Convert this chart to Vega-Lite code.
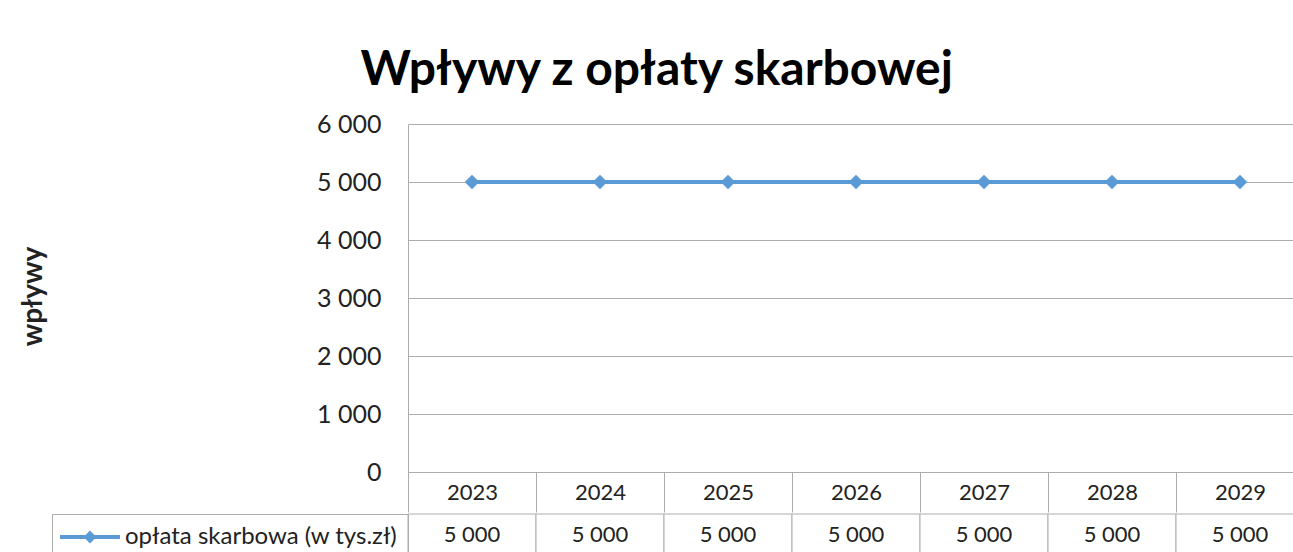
{
  "$schema": "https://vega.github.io/schema/vega-lite/v6.json",
  "background": "white",
  "padding": {"left": 19, "top": 47, "right": 0, "bottom": 0},
  "config": {
    "locale": {"number": {"decimal": ",", "thousands": " ", "grouping": [3], "currency": ["", " zł"]}},
    "font": "Lato",
    "view": {"stroke": null},
    "axis": {"labelFont": "Lato", "titleFont": "Lato", "labelColor": "#222222", "titleColor": "#222222", "gridColor": "#ADADAD", "domainColor": "#ADADAD", "tickColor": "#ADADAD"},
    "concat": {"spacing": 0}
  },
  "title": {"text": "Wpływy z opłaty skarbowej", "fontSize": 48, "font": "Lato", "fontWeight": "bold", "color": "#000000", "anchor": "middle", "offset": 17, "dx": -5},
  "datasets": {
    "wplywy": [
      {"rok": "2023", "wartosc": 5000, "seria": "opłata skarbowa (w tys.zł)"},
      {"rok": "2024", "wartosc": 5000, "seria": "opłata skarbowa (w tys.zł)"},
      {"rok": "2025", "wartosc": 5000, "seria": "opłata skarbowa (w tys.zł)"},
      {"rok": "2026", "wartosc": 5000, "seria": "opłata skarbowa (w tys.zł)"},
      {"rok": "2027", "wartosc": 5000, "seria": "opłata skarbowa (w tys.zł)"},
      {"rok": "2028", "wartosc": 5000, "seria": "opłata skarbowa (w tys.zł)"},
      {"rok": "2029", "wartosc": 5000, "seria": "opłata skarbowa (w tys.zł)"}
    ]
  },
  "vconcat": [
    {
      "width": 896,
      "height": 348,
      "data": {"name": "wplywy"},
      "encoding": {
        "x": {
          "field": "rok", "type": "nominal",
          "scale": {"type": "band", "paddingInner": 0, "paddingOuter": 0},
          "axis": {"title": null, "labelAngle": 0, "labelFontSize": 22, "tickBand": "extent", "tickSize": 40, "labelPadding": -20, "labelBaseline": "middle", "labelAlign": "center", "domain": true, "grid": false}
        },
        "y": {
          "field": "wartosc", "type": "quantitative",
          "scale": {"domain": [0, 6000], "nice": false},
          "axis": {"values": [0, 1000, 2000, 3000, 4000, 5000, 6000], "format": ",.0f", "title": "wpływy", "titleFontSize": 28, "titleFontWeight": "bold", "titleX": -375, "titleY": 172, "titleBaseline": "middle", "labelFontSize": 25, "labelPadding": 27, "ticks": false, "domain": true, "grid": true}
        }
      },
      "layer": [
        {
          "mark": {"type": "line", "strokeWidth": 4},
          "encoding": {
            "color": {
              "field": "seria", "type": "nominal",
              "scale": {"range": ["#5B9BD5"]},
              "legend": {"orient": "none", "legendX": -350, "legendY": 381, "title": null, "padding": 0, "symbolType": "M-1,0H1M0,-0.12L0.12,0L0,0.12L-0.12,0Z", "symbolSize": 3600, "symbolStrokeWidth": 4, "symbolStrokeColor": "#5B9BD5", "symbolFillColor": "#5B9BD5", "labelFont": "Lato", "labelFontSize": 24, "labelColor": "#222222", "labelOffset": 3, "labelLimit": 400}
            }
          }
        },
        {"mark": {"type": "point", "shape": "diamond", "filled": true, "size": 210, "color": "#5B9BD5", "opacity": 1}}
      ]
    },
    {
      "width": 896,
      "height": 40,
      "data": {"name": "wplywy"},
      "encoding": {
        "x": {"field": "rok", "type": "nominal", "scale": {"type": "band", "paddingInner": 0, "paddingOuter": 0}, "axis": null}
      },
      "layer": [
        {
          "mark": {"type": "rect", "fill": "white", "stroke": "#ADADAD", "strokeWidth": 1},
          "encoding": {
            "y": {"field": "seria", "type": "nominal", "scale": {"paddingInner": 0, "paddingOuter": 0}, "axis": {"title": null, "labels": false, "ticks": true, "tickBand": "extent", "tickSize": 356, "domain": true}}
          }
        },
        {
          "mark": {"type": "text", "fontSize": 22, "font": "Lato", "color": "#222222", "dy": 1},
          "encoding": {
            "y": {"field": "seria", "type": "nominal", "axis": {"orient": "left", "offset": 356, "title": null, "labels": false, "ticks": false, "domain": true}},
            "text": {"field": "wartosc", "type": "quantitative", "format": ","}
          }
        }
      ],
      "resolve": {"axis": {"y": "independent"}}
    }
  ]
}
